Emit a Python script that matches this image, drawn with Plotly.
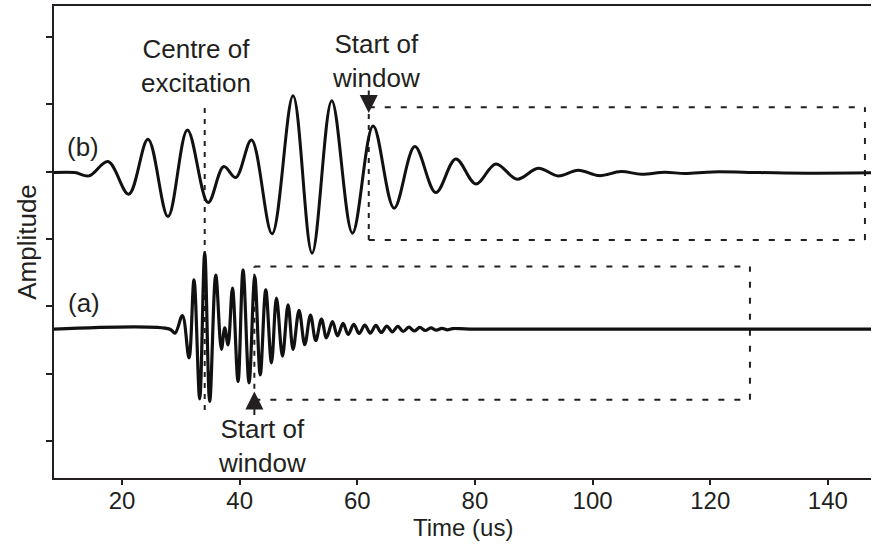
import plotly.graph_objects as go

# ---------------- data ----------------
# waveform (b): extrema, time in us, amplitude relative to its baseline
time_b = [8.44, 11.96, 14.39, 17.62, 21.14, 24.42, 27.82, 31.12, 34.63, 37.30,
          39.34, 42.01, 45.51, 49.08, 52.31, 55.66, 59.18, 62.69, 66.26, 69.78,
          73.35, 76.75, 80.15, 83.55, 87.18, 90.75, 94.15, 97.55, 101.12, 104.81,
          108.33, 112.30, 115.70, 120.46, 128.45, 136.39, 147.33]
amp_b = [0.0, 0.0, -0.049, 0.163, -0.320, 0.496, -0.653, 0.634, -0.445, 0.089,
         -0.074, 0.485, -0.909, 1.142, -1.196, 1.068, -0.899, 0.693, -0.528, 0.386,
         -0.297, 0.203, -0.168, 0.129, -0.098, 0.065, -0.049, 0.036, -0.045, 0.015,
         -0.024, 0.006, -0.015, 0.010, 0.0, -0.009, -0.004]
offset_b = 0.984

# waveform (a)
time_a = [8.44, 28.11, 29.01, 30.27, 31.39, 32.24, 33.21, 34.06, 34.91, 35.94,
          36.90, 37.47, 38.03, 38.78, 39.73, 40.58, 41.60, 42.57, 43.50, 44.44,
          45.41, 46.26, 47.28, 48.23, 49.08, 50.10, 51.07, 52.04, 52.94, 53.91,
          54.76, 55.78, 56.63, 57.59, 58.44, 59.40, 60.31, 61.28, 62.21, 63.15,
          64.08, 65.02, 65.95, 66.89, 67.82, 68.76, 69.69, 70.63, 71.56, 72.50,
          73.44, 74.37, 75.31, 76.24, 79.13, 147.33]
amp_a = [0.0, 0.0, -0.06, 0.202, -0.426, 0.731, -1.034, 1.132, -1.074, 0.803,
         -0.300, 0.02, -0.233, 0.608, -0.777, 0.880, -0.797, 0.779, -0.678, 0.583,
         -0.50, 0.46, -0.40, 0.36, -0.30, 0.28, -0.23, 0.21, -0.17, 0.15,
         -0.13, 0.11, -0.10, 0.085, -0.08, 0.07, -0.065, 0.06, -0.06, 0.055,
         -0.05, 0.045, -0.04, 0.04, -0.035, 0.03, -0.028, 0.025, -0.02, 0.018,
         -0.015, 0.012, -0.01, 0.008, 0.0, 0.0]
offset_a = -1.340

x_ticks = [20, 40, 60, 80, 100, 120, 140]
y_ticks = [-3, -2, -1, 0, 1, 2, 3]

# annotation geometry (data units)
centre_t = 34.06
win_b_start, win_b_end, win_b_bottom, win_b_top = 61.95, 146.3, -0.015, 1.954
win_a_start, win_a_end, win_a_bottom, win_a_top = 42.5, 126.75, -2.389, -0.411

INK = "#231f20"
FONT = "Liberation Sans, Arial, Helvetica, sans-serif"

y_b = [v + offset_b for v in amp_b]
y_a = [v + offset_a for v in amp_a]

fig = go.Figure()
fig.add_trace(go.Scatter(x=time_b, y=y_b, mode="lines",
                         line=dict(color="#111111", width=3, shape="spline", smoothing=1.0),
                         showlegend=False, hoverinfo="skip"))
fig.add_trace(go.Scatter(x=time_a, y=y_a, mode="lines",
                         line=dict(color="#111111", width=3.2, shape="spline", smoothing=1.0),
                         showlegend=False, hoverinfo="skip"))

def seg(x0, y0, x1, y1, dash):
    fig.add_shape(type="line", xref="x", yref="y", x0=x0, y0=y0, x1=x1, y1=y1,
                  line=dict(color=INK, width=2, dash=dash), layer="below")

long_dash = "6px,10px"
short_dash = "5px,6px"
# centre of excitation line
seg(centre_t, 1.944, centre_t, -2.626, short_dash)
# window (b)
seg(win_b_start, win_b_bottom, win_b_start, win_b_top, short_dash)
seg(win_b_start, win_b_top, win_b_end, win_b_top, long_dash)
seg(win_b_start, win_b_bottom, win_b_end, win_b_bottom, long_dash)
seg(win_b_end, win_b_bottom, win_b_end, win_b_top, long_dash)
# window (a)
seg(win_a_start, win_a_bottom, win_a_start, win_a_top, short_dash)
seg(win_a_start, win_a_top, win_a_end, win_a_top, long_dash)
seg(win_a_start, win_a_bottom, win_a_end, win_a_bottom, long_dash)
seg(win_a_end, win_a_bottom, win_a_end, win_a_top, long_dash)

tfont = dict(family=FONT, size=26, color=INK)
ann = [
    dict(x=32.65, y=2.567, text="Centre of<br>excitation"),
    dict(x=63.15, y=2.648, text="Start of<br>window"),
    dict(x=43.76, y=-3.071, text="Start of<br>window"),
    dict(x=13.32, y=1.369, text="(b)"),
    dict(x=13.49, y=-0.954, text="(a)"),
]
for a in ann:
    fig.add_annotation(x=a["x"], y=a["y"], xref="x", yref="y", text=a["text"],
                       showarrow=False, font=tfont, xanchor="center", yanchor="middle")

# x-axis title placed as text just below the tick labels
fig.add_annotation(x=0.5, y=-0.1059, xref="paper", yref="paper", text="Time (us)",
                   showarrow=False, font=dict(family=FONT, size=24, color=INK),
                   xanchor="center", yanchor="middle")

# arrows
fig.add_annotation(x=win_b_start, y=1.87, ax=win_b_start, ay=2.225, xref="x", yref="y",
                   axref="x", ayref="y", text="", showarrow=True, arrowhead=2,
                   arrowsize=1.8, arrowwidth=2, arrowcolor=INK)
fig.add_annotation(x=win_a_start, y=-2.266, ax=win_a_start, ay=-2.637, xref="x", yref="y",
                   axref="x", ayref="y", text="", showarrow=True, arrowhead=2,
                   arrowsize=1.8, arrowwidth=2, arrowcolor=INK)

fig.update_layout(
    width=873, height=544,
    margin=dict(l=54, r=2, t=6, b=66),
    paper_bgcolor="white", plot_bgcolor="white",
    font=dict(family=FONT, size=24, color=INK),
    xaxis=dict(range=[8.44, 147.33], tickvals=x_ticks, ticks="outside", ticklen=5,
               tickwidth=2, tickcolor=INK, showline=True, linewidth=2, linecolor=INK,
               mirror=True, showgrid=False, zeroline=False, ticklabelstandoff=-5,
               tickfont=dict(family=FONT, size=24, color=INK)),
    yaxis=dict(range=[-3.55, 3.457], tickvals=y_ticks, ticks="outside", ticklen=6,
               tickwidth=2, tickcolor=INK, showline=True, linewidth=2, linecolor=INK,
               showticklabels=False, showgrid=False, zeroline=False,
               title=dict(text="Amplitude", font=dict(family=FONT, size=26, color=INK),
                          standoff=2)),
)

fig.write_html("out.html")
